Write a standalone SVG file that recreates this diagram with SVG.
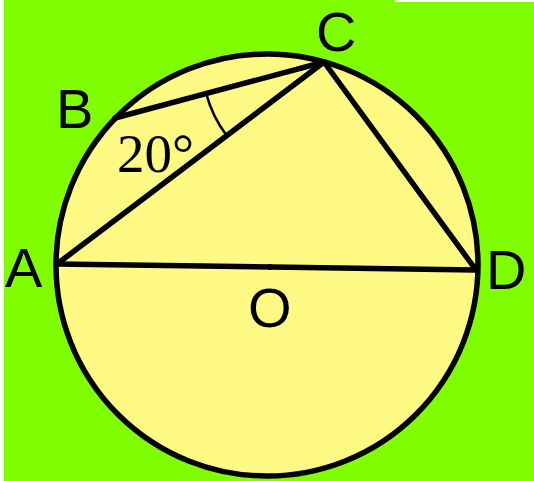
<svg xmlns="http://www.w3.org/2000/svg" width="534" height="481" viewBox="0 0 534 481">
<style>
.lbl{font-family:"Liberation Sans",Arial,sans-serif;font-size:56px;fill:#000}
.ang{font-family:"Liberation Serif","Times New Roman",serif;font-size:55px;fill:#000}
.ln{stroke:#000;stroke-width:5.5;stroke-linecap:round;fill:none}
.thin{stroke:#000;stroke-width:2.5;fill:none}
</style>
<rect x="0" y="0" width="534" height="481" fill="#80FF00"/>
<rect x="0" y="0" width="4" height="481" fill="#FFFFFF"/>
<rect x="395" y="0" width="139" height="2" fill="#FFFFFF"/>
<g id="circle">
<circle cx="267" cy="265" r="211" fill="#FFFA84" stroke="#000" stroke-width="5.5"/>
</g>
<g id="connectors">
<line class="ln" x1="57" y1="264" x2="476" y2="270"/>
<line class="ln" x1="57" y1="264" x2="324" y2="62"/>
<line class="ln" x1="324" y1="62" x2="476" y2="270"/>
<line class="ln" x1="115" y1="118" x2="324" y2="62"/>
<path class="thin" d="M206.2 93.6 A122 122 0 0 0 226.7 135.6"/>
<circle cx="270" cy="267" r="3" fill="#000"/>
</g>
<g id="node-A"><text class="lbl" x="5" y="287">A</text></g>
<g id="node-B"><text class="lbl" x="56" y="128">B</text></g>
<g id="node-C"><text class="lbl" x="316" y="51">C</text></g>
<g id="node-D"><text class="lbl" x="486" y="289">D</text></g>
<g id="node-O"><text class="lbl" x="248" y="327">O</text></g>
<g id="angle-label"><text class="ang" x="117" y="172">20°</text></g>
</svg>
